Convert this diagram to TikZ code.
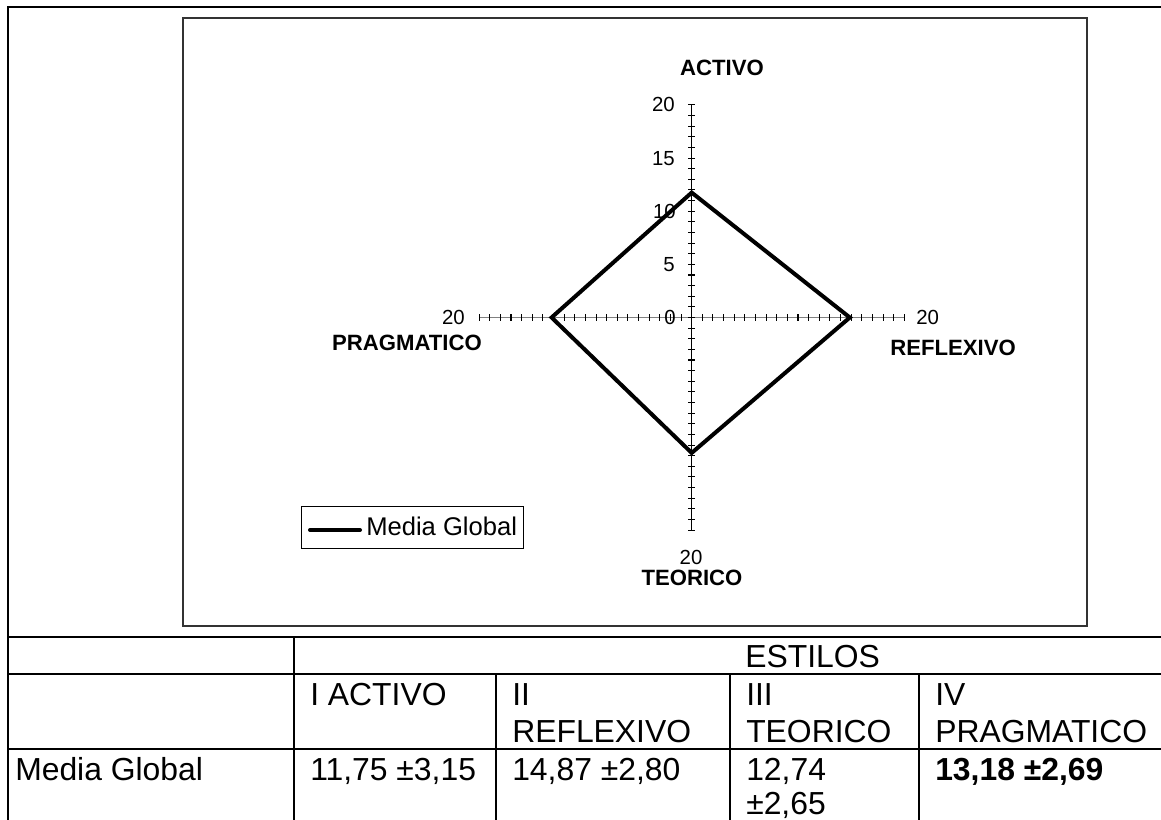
\documentclass[tikz,border=0pt]{standalone}
\usepackage{fontspec}
\setmainfont{Liberation Sans}
\begin{document}
\begin{tikzpicture}[x=0.75pt,y=-0.75pt,
  tabtxt/.style={anchor=base west,inner sep=0pt,font=\fontsize{23.9}{28}\selectfont},
  num/.style={inner sep=0pt,font=\fontsize{15.3}{18}\selectfont},
  cat/.style={inner sep=0pt,font=\fontsize{16.6}{19}\selectfont\bfseries},
  tabline/.style={line width=1.5pt,black},
  frameline/.style={line width=1.4pt,black!80},
  tickline/.style={line width=0.8pt,black},
  series/.style={line width=3pt,black,line join=miter},
  ]
\useasboundingbox (0,0) rectangle (1161,820);
% ---------- outer table grid ----------
\draw[tabline] (1161,7) -- (7.5,7) -- (7.5,820);
\draw[tabline] (7.5,637) -- (1161,637);
\draw[tabline] (7.5,674) -- (1161,674);
\draw[tabline] (7.5,749) -- (1161,749);
\draw[tabline] (294,637) -- (294,820);
\draw[tabline] (496,674) -- (496,820);
\draw[tabline] (730,674) -- (730,820);
\draw[tabline] (919,674) -- (919,820);
% ---------- chart frame ----------
\draw[frameline] (183,18) rectangle (1087,626);
% ---------- axes ----------
\draw[line width=1.1pt,black!50] (479.1,317.5) -- (904.3,317.5);
\draw[line width=1.1pt,black] (691.7,104.9) -- (691.7,530.1);
\foreach \i in {-20,...,20}{
  \draw[tickline] ({691.7+\i*10.63},314.2) -- ({691.7+\i*10.63},320.8);
  \draw[tickline] (688.2,{317.5+\i*10.63}) -- (695.2,{317.5+\i*10.63});
}
% ---------- axis labels ----------
\node[num,anchor=east] (v20) at (675,104.9) {20};
\node[num,anchor=east] (v15) at (675,158.1) {15};
\node[num,anchor=east] (v10) at (676,211.2) {10};
\node[num,anchor=east] (v5) at (675,264.4) {5};
\node[num,anchor=east] (v0) at (676,317.5) {0};
\node[num,anchor=east] (hl20) at (465,317.5) {20};
\node[num,anchor=west] (hr20) at (916,317.5) {20};
\node[num] (b20) at (691,557) {20};
\node[cat] (cActivo) at (722,68) {ACTIVO};
\node[cat] (cRefl) at (953,348) {REFLEXIVO};
\node[cat] (cTeor) at (692,578) {TEORICO};
\node[cat] (cPrag) at (407,342.5) {PRAGMATICO};
% ---------- data series ----------
\coordinate (pA) at (691.7,192.6);
\coordinate (pR) at (849.8,317.5);
\coordinate (pT) at (691.7,452.9);
\coordinate (pP) at (551.6,317.5);
\draw[series] (pA) -- (pR) -- (pT) -- (pP) -- cycle;
% ---------- legend ----------
\draw[line width=0.75pt,black] (301,506) rectangle (523,548);
\coordinate (lgA) at (310,530);
\coordinate (lgB) at (360,530);
\draw[series,line cap=round] (lgA) -- (lgB);
\node[inner sep=0pt,anchor=west,font=\fontsize{19.2}{22}\selectfont] (lgT) at (366,526) {Media Global};
% ---------- table texts ----------
\node[tabtxt] (estilos) at (745,667.5) {ESTILOS};
\node[tabtxt] (h1) at (310,705.5) {I ACTIVO};
\node[tabtxt] (h2a) at (512,705.5) {II};
\node[tabtxt] (h2b) at (512,742) {REFLEXIVO};
\node[tabtxt] (h3a) at (746,705.5) {III};
\node[tabtxt] (h3b) at (746,742) {TEORICO};
\node[tabtxt] (h4a) at (935,705.5) {IV};
\node[tabtxt] (h4b) at (935,742) {PRAGMATICO};
\node[tabtxt] (r0) at (15,780.5) {Media Global};
\node[tabtxt] (r1) at (310,780.5) {11,75 ±3,15};
\node[tabtxt] (r2) at (512,780.5) {14,87 ±2,80};
\node[tabtxt] (r3a) at (746,780.5) {12,74};
\node[tabtxt] (r3b) at (746,814) {±2,65};
\node[tabtxt,font=\fontsize{23.9}{28}\selectfont\bfseries] (r4) at (935,780.5) {13,18 ±2,69};
\end{tikzpicture}
\end{document}
